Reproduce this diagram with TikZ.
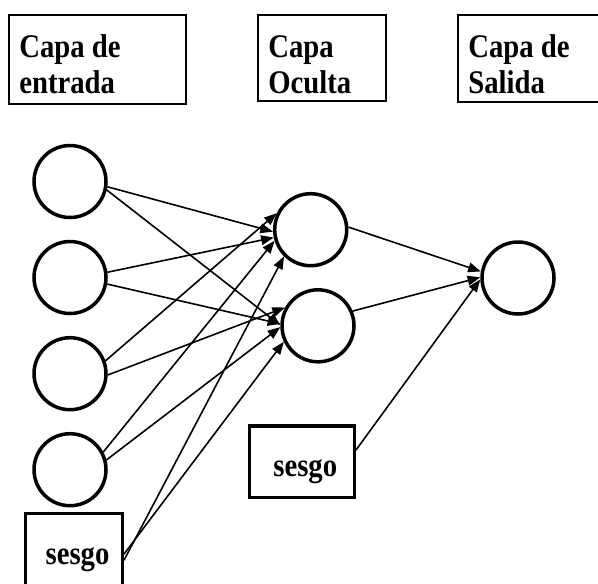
\documentclass[tikz,border=0pt]{standalone}
\usepackage{fontspec}
\setmainfont{Liberation Serif}
\newfontfamily\lblfont[FakeStretch=0.87]{Liberation Serif}
\usetikzlibrary{arrows.meta}
\begin{document}
\begin{tikzpicture}[x=0.75pt,y=-0.75pt,
  neuron/.style={circle,draw,line width=2.625pt,minimum size=54pt,inner sep=0pt},
  layerbox/.style={rectangle,draw,line width=1.5pt,inner sep=0pt,text height=0pt,
    font=\lblfont\fontsize{24.75pt}{27.4pt}\selectfont\bfseries},
  biasbox/.style={rectangle,draw,line width=2.6pt,inner sep=0pt,
    font=\lblfont\fontsize{24.75pt}{27.4pt}\selectfont\bfseries},
  conn/.style={line width=1.2pt,-{Triangle[length=9.5pt,width=7.2pt]}}]
\useasboundingbox (0,0) rectangle (598,583);
\clip (0,0) rectangle (598,583);
% layer titles
\node[layerbox,minimum width=132.3pt,minimum height=66.75pt,text depth=3.75pt] (b1) at (97.5,59.8)
  {\hbox to 117.3pt{\vtop{\hbox{Capa de}\hbox{entrada}}\hss}};
\node[layerbox,minimum width=95.55pt,minimum height=64.05pt,text depth=1.5pt] (b2) at (322,58)
  {\hbox to 80.55pt{\vtop{\hbox{Capa}\hbox{Oculta}}\hss}};
\node[layerbox,minimum width=110.8pt,minimum height=64.8pt,text depth=2.25pt] (b3) at (532.2,58.5)
  {\hbox to 95.85pt{\vtop{\hbox{Capa de}\hbox{Salida}}\hss}};
% neurons
\node[neuron] (i1) at (70,181.5) {};
\node[neuron] (i2) at (70,277.5) {};
\node[neuron] (i3) at (70,373.7) {};
\node[neuron] (i4) at (70,469.7) {};
\node[neuron] (h1) at (310.7,229.7) {};
\node[neuron] (h2) at (318,325.8) {};
\node[neuron] (o) at (518,278) {};
% bias boxes
\node[biasbox,minimum width=72.4pt,minimum height=64.9pt,text height=15.45pt,text depth=4.5pt] (s1) at (74,556.7)
  {\hspace*{5.25pt}sesgo};
\node[biasbox,minimum width=78.4pt,minimum height=53.6pt,text height=27.3pt,text depth=4.5pt] (s2) at (302,461.5)
  {\hspace*{4.95pt}sesgo};
% connectors
\draw[conn] (i1.-8) -- (h1.183);
\draw[conn] (i1.-13) -- (h2.179);
\draw[conn] (i2.8) -- (h1.192);
\draw[conn] (i2.-10) -- (h2.177);
\draw[conn] (i3.20) -- (h1.154);
\draw[conn] (i3.-2) -- (h2.151);
\draw[conn] (i4.28) -- (h1.197);
\draw[conn] (i4.15) -- (h2.182);
\draw[conn] (s1.-4) -- (h1.225);
\draw[conn] (s1.3) -- (h2.205);
\draw[conn] (h1.4) -- (o.170);
\draw[conn] (h2.23) -- (o.179);
\draw[conn] (s2.12) -- (o.182);
\end{tikzpicture}
\end{document}
